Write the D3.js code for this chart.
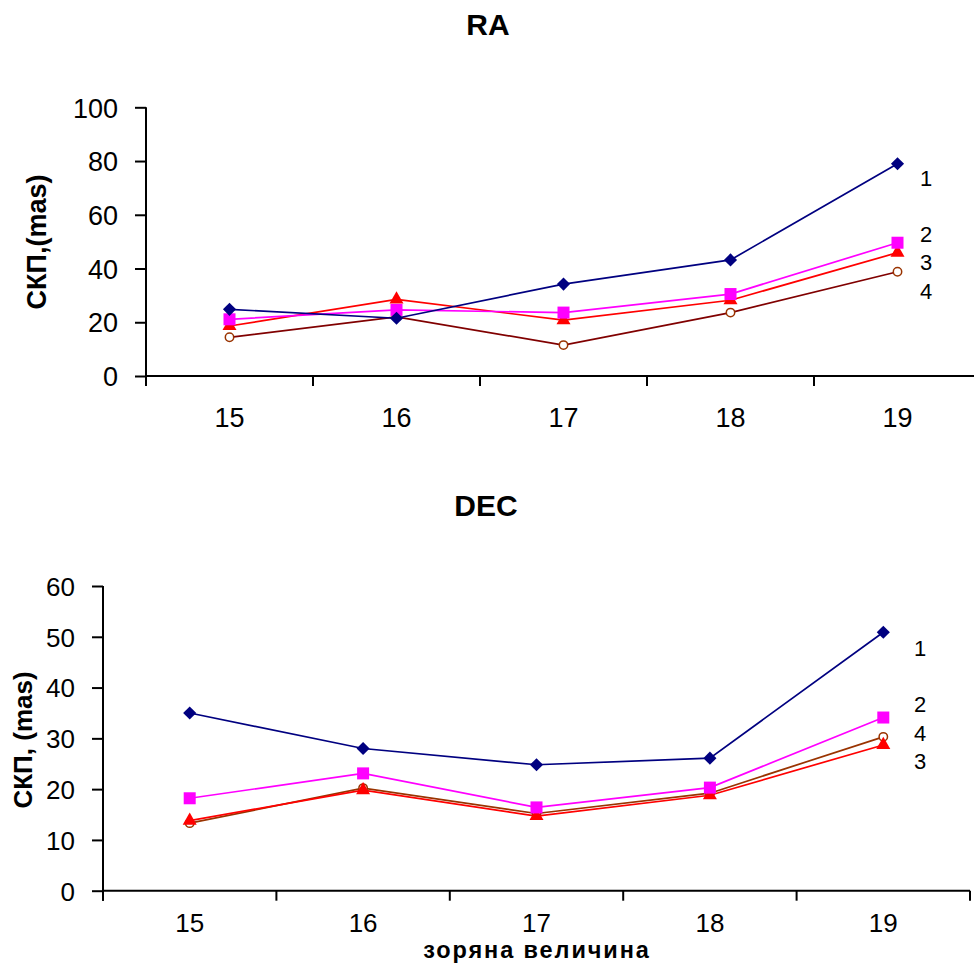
<!DOCTYPE html>
<html><head><meta charset="utf-8">
<script src="https://cdn.jsdelivr.net/npm/d3@7"></script>
<style>body{margin:0;background:#fff;} svg{display:block;} text{font-family:"Liberation Sans",Arial,sans-serif;fill:#000;}</style>
</head><body>
<svg id="c" width="974" height="963"></svg>
<script>
const magnitudes = ["15","16","17","18","19"];
const seriesNames = ["1","2","3","4"];
const raS1 = [24.8, 21.5, 34.2, 43.2, 79.0];
const raS2 = [21.1, 24.6, 23.6, 30.5, 49.6];
const raS3 = [18.6, 28.5, 20.8, 28.2, 45.9];
const raS4 = [14.4, 22.0, 11.5, 23.6, 38.8];
const decS1 = [35.0, 28.0, 24.8, 26.1, 50.9];
const decS2 = [18.2, 23.1, 16.4, 20.3, 34.1];
const decS3 = [13.8, 19.8, 14.7, 18.8, 28.7];
const decS4 = [13.3, 20.2, 15.2, 19.2, 30.3];
const raTicks = [0,20,40,60,80,100];
const decTicks = [0,10,20,30,40,50,60];

const svg = d3.select("#c");

function panel(cfg){
  const g = svg.append("g");
  const x = d3.scaleBand().domain(magnitudes).range([cfg.x0, cfg.x1]);
  const y = d3.scaleLinear().domain([0, cfg.ymax]).range([cfg.yb, cfg.yt]);
  const bw = x.bandwidth();
  const ya = g.append("g").attr("transform",`translate(${cfg.x0},0)`)
    .call(d3.axisLeft(y).tickValues(cfg.ticks).tickSize(11).tickPadding(17).tickSizeOuter(0));
  ya.select(".domain").remove();
  ya.selectAll("line").attr("stroke","#000").attr("stroke-width",2);
  ya.selectAll("text").style("font-size",cfg.tickFont+"px").attr("dy","0.36em");
  g.append("line").attr("x1",cfg.x0).attr("x2",cfg.x0).attr("y1",y(cfg.ymax)).attr("y2",cfg.yb+10).attr("stroke","#000").attr("stroke-width",2);
  g.append("line").attr("x1",cfg.x0).attr("x2",cfg.x1).attr("y1",cfg.yb).attr("y2",cfg.yb).attr("stroke","#000").attr("stroke-width",2);
  const bounds = magnitudes.map(m=>x(m)).concat([x(magnitudes[magnitudes.length-1])+bw]);
  g.selectAll(".bt").data(bounds).enter().append("line")
    .attr("x1",d=>d).attr("x2",d=>d).attr("y1",cfg.yb).attr("y2",cfg.yb+10).attr("stroke","#000").attr("stroke-width",2);
  const xa = g.append("g").attr("transform",`translate(0,${cfg.yb})`)
    .call(d3.axisBottom(x).tickSize(0).tickPadding(cfg.xPad));
  xa.select(".domain").remove();
  xa.selectAll("text").style("font-size",cfg.tickFont+"px");
  const cx = m => x(m)+bw/2;
  const line = d3.line().x((d,i)=>cx(magnitudes[i])).y(d=>y(d));
  const order = cfg.order;
  order.forEach(k=>{
    const s = cfg.series[k];
    g.append("path").datum(s.data).attr("d",line).attr("fill","none").attr("stroke",s.line).attr("stroke-width",1.7);
  });
  order.forEach(k=>{
    const s = cfg.series[k];
    const pts = g.selectAll(null).data(s.data).enter();
    if(s.shape==="diamond"){
      pts.append("path").attr("d",d3.symbol(d3.symbolDiamond2,110)())
        .attr("transform",(d,i)=>`translate(${cx(magnitudes[i])},${y(d)})`).attr("fill",s.mark);
    } else if(s.shape==="square"){
      pts.append("rect").attr("x",(d,i)=>cx(magnitudes[i])-6).attr("y",d=>y(d)-6).attr("width",12).attr("height",12).attr("fill",s.mark);
    } else if(s.shape==="triangle"){
      pts.append("path").attr("d",d3.symbol(d3.symbolTriangle,85)())
        .attr("transform",(d,i)=>`translate(${cx(magnitudes[i])},${y(d)})`).attr("fill",s.mark);
    } else {
      pts.append("circle").attr("cx",(d,i)=>cx(magnitudes[i])).attr("cy",d=>y(d)).attr("r",4.2)
        .attr("fill","#fff").attr("stroke",s.mark).attr("stroke-width",1.5);
    }
  });
  g.append("text").attr("x",cfg.titleX).attr("y",cfg.titleY).attr("text-anchor","middle")
    .style("font-size","30px").style("font-weight","bold").text(cfg.title);
  g.append("text").attr("transform",`translate(${cfg.ylabX},${cfg.ylabY}) rotate(-90)`).attr("text-anchor","middle")
    .style("font-size",cfg.ylabFont+"px").style("font-weight","bold").text(cfg.ylab);
  cfg.labels.forEach((ly,i)=>{
    g.append("text").attr("x",cfg.labX).attr("y",ly).attr("dy","0.36em").attr("text-anchor","middle")
      .style("font-size","22px").text(seriesNames[i]);
  });
}

const colors = {navy:"#000080", mag:"#FF00FF", red:"#FF0000", brown:"#993300", maroon:"#800000"};

panel({x0:146, x1:981, yb:376, yt:107.3, ymax:100, ticks:raTicks, tickFont:27, xPad:32,
  title:"RA", titleX:488, titleY:35, ylab:"СКП,(mas)", ylabX:46, ylabY:242, ylabFont:27,
  labX:926, labels:[178,234,262,291], order:[3,2,1,0],
  series:[
    {data:raS1, line:colors.navy, mark:colors.navy, shape:"diamond"},
    {data:raS2, line:colors.mag, mark:colors.mag, shape:"square"},
    {data:raS3, line:colors.red, mark:colors.red, shape:"triangle"},
    {data:raS4, line:colors.maroon, mark:colors.brown, shape:"circle"}
  ]});

panel({x0:103, x1:970, yb:890.7, yt:586, ymax:60, ticks:decTicks, tickFont:26, xPad:23,
  title:"DEC", titleX:486, titleY:516, ylab:"СКП, (mas)", ylabX:32, ylabY:740, ylabFont:26,
  labX:920, labels:[648,704,761,733], order:[3,2,1,0],
  series:[
    {data:decS1, line:colors.navy, mark:colors.navy, shape:"diamond"},
    {data:decS2, line:colors.mag, mark:colors.mag, shape:"square"},
    {data:decS3, line:colors.red, mark:colors.red, shape:"triangle"},
    {data:decS4, line:colors.brown, mark:colors.brown, shape:"circle"}
  ]});

svg.append("text").attr("x",537).attr("y",958).attr("text-anchor","middle")
  .style("font-size","23.5px").style("font-weight","bold").style("letter-spacing","1.9px").text("зоряна величина");
</script>
</body></html>
